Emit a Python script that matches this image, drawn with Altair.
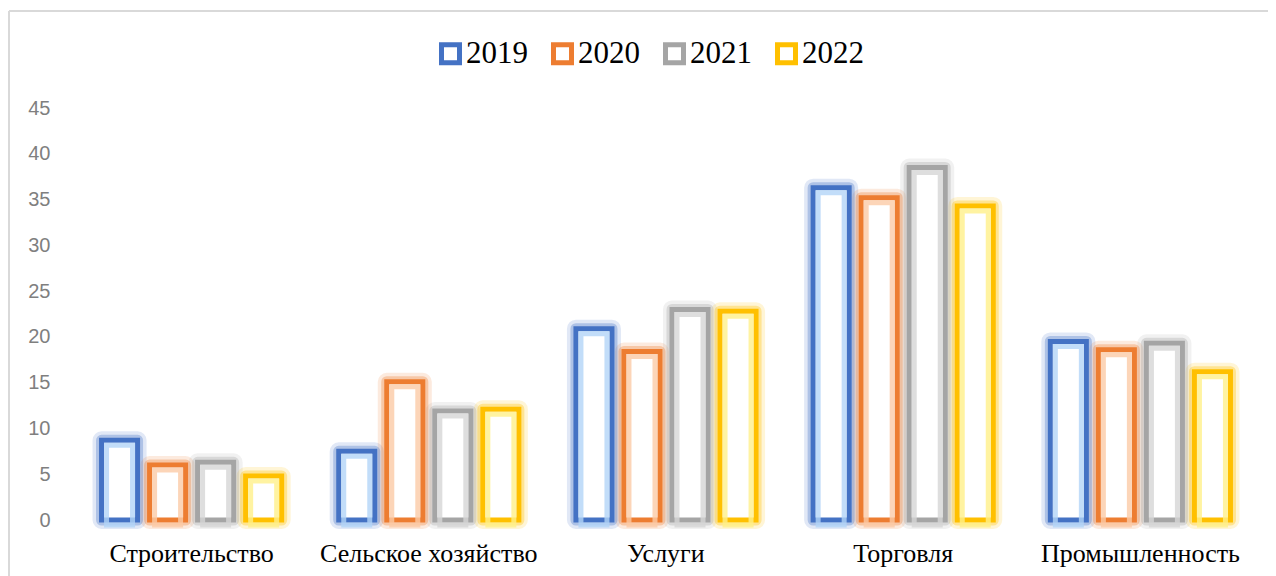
import altair as alt
import pandas as pd

categories = ["Строительство", "Сельское хозяйство", "Услуги", "Торговля", "Промышленность"]
years = ["2019", "2020", "2021", "2022"]
v2019 = [8.7, 7.5, 20.9, 36.3, 19.5]
v2020 = [6.0, 15.1, 18.4, 35.2, 18.6]
v2021 = [6.3, 11.9, 23.0, 38.5, 19.3]
v2022 = [4.8, 12.1, 22.8, 34.3, 16.2]
y_ticks = [0, 5, 10, 15, 20, 25, 30, 35, 40, 45]

colors = ["#4472c4", "#ed7d31", "#a5a5a5", "#ffc000"]
tints = ["#b3d4f8", "#fbcaa6", "#d6d6d6", "#fff08a"]

series = {"2019": v2019, "2020": v2020, "2021": v2021, "2022": v2022}
rows = []
for yr in years:
    for c, v in zip(categories, series[yr]):
        rows.append({"cat": c, "year": yr, "value": v})
df = pd.DataFrame(rows)

W, H = 1186, 412

x_enc = alt.X("cat:N", sort=categories, title=None,
              scale=alt.Scale(paddingInner=0.19, paddingOuter=0.095),
              axis=alt.Axis(labelAngle=0, domain=False, ticks=False, labelPadding=20, labelLimit=0,
                            labelFont="Liberation Serif", labelFontSize=26, labelColor="#000000"))
xo_enc = alt.XOffset("year:N", sort=years, scale=alt.Scale(paddingInner=0.25, paddingOuter=0.125))
y_enc = alt.Y("value:Q", title=None,
              scale=alt.Scale(domain=[0, 45], nice=False, zero=True),
              axis=alt.Axis(values=y_ticks, grid=False, domain=False, ticks=False, labelPadding=23,
                            labelFont="Liberation Sans", labelFontSize=20, labelColor="#7f7f7f"))

def stroke_enc(rng, legend=None):
    return alt.Stroke("year:N", sort=years, scale=alt.Scale(domain=years, range=rng), legend=legend)

base = alt.Chart(df)

halo1 = base.mark_bar(fillOpacity=0, strokeWidth=18, strokeOpacity=0.16, strokeJoin="round").encode(
    x=x_enc, xOffset=xo_enc, y=y_enc, stroke=stroke_enc(colors))
halo2 = base.mark_bar(fillOpacity=0, strokeWidth=11, strokeOpacity=0.32, strokeJoin="round").encode(
    x=x_enc, xOffset=xo_enc, y=y_enc, stroke=stroke_enc(colors))

legend = alt.Legend(orient="none", legendX=362, legendY=-70, direction="horizontal", title=None,
                    symbolType="square", symbolSize=324, symbolStrokeWidth=5, symbolFillColor="white",
                    labelFont="Liberation Serif", labelFontSize=31, labelColor="#000000",
                    labelOffset=0, columnPadding=15)
main = base.mark_bar(fill="white", strokeWidth=5).encode(
    x=x_enc, xOffset=xo_enc, y=y_enc, stroke=stroke_enc(colors, legend))
tint = base.mark_bar(fillOpacity=0, strokeWidth=5, strokeOpacity=0.8, width=26,
                     yOffset=5, y2Offset=-5).encode(
    x=x_enc, xOffset=xo_enc, y=y_enc, stroke=stroke_enc(tints))

frame_data = alt.Data(values=[{}])
frame_h = alt.Chart(frame_data).mark_rule(color="#d9d9d9", strokeWidth=2).encode(
    x=alt.value(-64), x2=alt.value(1300), y=alt.value(-97))
frame_v = alt.Chart(frame_data).mark_rule(color="#d9d9d9", strokeWidth=2).encode(
    x=alt.value(-64), y=alt.value(-97), y2=alt.value(600))

chart = alt.layer(frame_h, frame_v, halo1, halo2, main, tint).resolve_scale(
    stroke="independent"
).properties(
    width=W, height=H,
    autosize=alt.AutoSizeParams(type="none"),
    padding={"left": 65, "top": 100, "right": 9, "bottom": 56},
).configure_view(stroke=None)

chart.save("out.html", embed_options={"renderer": "svg", "actions": False})
